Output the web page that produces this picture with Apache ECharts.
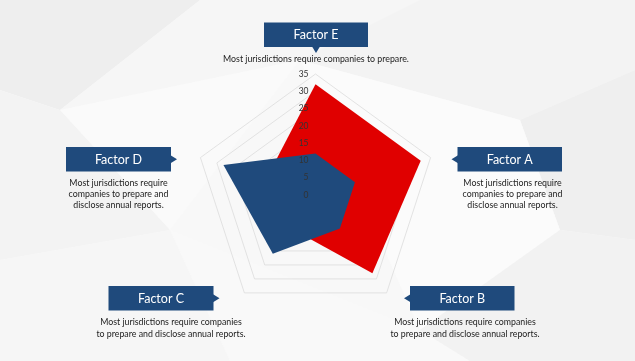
<!DOCTYPE html>
<html>
<head>
<meta charset="utf-8">
<script src="https://cdn.jsdelivr.net/npm/echarts@6/dist/echarts.min.js"></script>
<style>
html,body{margin:0;padding:0;background:#f5f5f5;}
#chart{width:635px;height:361px;}
</style>
</head>
<body>
<div id="chart"></div>
<script>
// ---- data ----
const indicatorNames = ['Factor E', 'Factor D', 'Factor C', 'Factor B', 'Factor A'];
const indicatorMax = 35;
const redValues = [32, 15, 12, 28, 32];
const blueValues = [12, 28, 21, 12, 12];
const axisTickLabels = ['0', '5', '10', '15', '20', '25', '30', '35'];
const boxTitles = ['Factor E', 'Factor D', 'Factor C', 'Factor B', 'Factor A'];
const descShort = 'Most jurisdictions require companies to prepare.';
const descThree = 'Most jurisdictions require\ncompanies to prepare and\ndisclose annual reports.';
const descTwo = 'Most jurisdictions require companies\nto prepare and disclose annual reports.';
const boxDescs = [descShort, descThree, descTwo, descTwo, descThree];

// ---- layout (styles/positions) ----
const BOX_BLUE = '#1f4a7c';
const LH = 11.3;
const boxLayout = [
  {x: 264, y: 22.5, w: 104, h: 24.5, arrow: 'bottom', dx: 316, dy: 59.5},
  {x: 66, y: 147, w: 105, h: 24.5, arrow: 'right', dx: 118.5, dy: 183},
  {x: 108.5, y: 286, w: 105, h: 24.5, arrow: 'right', dx: 171, dy: 322.5},
  {x: 410, y: 286, w: 104.5, h: 24.5, arrow: 'left', dx: 465, dy: 322.5},
  {x: 457.5, y: 147, w: 104.5, h: 24.5, arrow: 'left', dx: 512.5, dy: 183}
];

function arrowPoints(b) {
  const s = 6;
  if (b.arrow === 'bottom') {
    const cx = b.x + b.w / 2, by = b.y + b.h;
    return [[cx - 4, by - 0.5], [cx + 4, by - 0.5], [cx, by + s]];
  }
  const cy = b.y + b.h / 2;
  if (b.arrow === 'right') {
    const rx = b.x + b.w;
    return [[rx - 0.5, cy - 4], [rx + s, cy], [rx - 0.5, cy + 4]];
  }
  return [[b.x + 0.5, cy - 4], [b.x - s, cy], [b.x + 0.5, cy + 4]];
}

const bgPolys = [
  {pts: [[0,0],[200,0],[60,110],[0,90]], c: '#eeeeee'},
  {pts: [[200,0],[420,0],[300,60],[60,110]], c: '#f6f6f6'},
  {pts: [[420,0],[635,0],[635,70],[520,120],[300,60]], c: '#f3f3f3'},
  {pts: [[0,90],[60,110],[170,230],[0,260]], c: '#f3f3f3'},
  {pts: [[60,110],[300,60],[170,230]], c: '#fafafa'},
  {pts: [[520,120],[635,70],[635,240],[560,230]], c: '#efefef'},
  {pts: [[300,60],[520,120],[560,230],[420,330]], c: '#fbfbfb'},
  {pts: [[0,260],[170,230],[230,361],[0,361]], c: '#f6f6f6'},
  {pts: [[170,230],[420,330],[470,361],[230,361]], c: '#f9f9f9'},
  {pts: [[560,230],[635,240],[635,361],[470,361],[420,330]], c: '#f2f2f2'}
];

const graphics = [];
bgPolys.forEach(p => graphics.push({
  type: 'polygon', z: -10, silent: true,
  shape: {points: p.pts}, style: {fill: p.c}
}));
boxLayout.forEach((b, i) => {
  graphics.push({type: 'rect', shape: {x: b.x, y: b.y, width: b.w, height: b.h},
    style: {fill: BOX_BLUE}, z: 10});
  graphics.push({type: 'polygon', shape: {points: arrowPoints(b)},
    style: {fill: BOX_BLUE}, z: 10});
  graphics.push({type: 'text', x: b.x + b.w / 2, y: b.y + b.h / 2 + 0.5, z: 11,
    style: {text: boxTitles[i], fill: '#ffffff', font: '12.5px Lato',
      align: 'center', verticalAlign: 'middle'}});
  graphics.push({type: 'text', x: b.dx, y: b.dy - LH / 2, z: 11,
    style: {text: boxDescs[i], fill: '#222222', font: '8.8px Lato', lineHeight: LH,
      align: 'center', verticalAlign: 'top'}});
});

const labelRadar = {
  center: [315.5, 195],
  radius: 121,
  startAngle: 90,
  splitNumber: axisTickLabels.length - 1,
  shape: 'polygon',
  z: 5,
  axisName: {show: false},
  axisLine: {show: false},
  axisTick: {show: false},
  axisLabel: {show: false},
  splitLine: {show: false},
  splitArea: {show: false},
  indicator: indicatorNames.map((n, i) => ({
    name: n, min: 0, max: indicatorMax,
    axisLabel: i === 0 ? {show: true, showMinLabel: true, showMaxLabel: true,
      color: '#333', fontSize: 8.5, fontFamily: 'Lato', margin: 7,
      formatter: v => axisTickLabels[Math.round(v / 5)] ?? String(v)} : {show: false}
  }))
};

const chart = echarts.init(document.getElementById('chart'), null, {renderer: 'canvas'});
chart.setOption({
  backgroundColor: '#f8f8f8',
  animation: false,
  graphic: graphics,
  radar: [{
    center: [315.5, 195],
    radius: 121,
    startAngle: 90,
    splitNumber: axisTickLabels.length - 1,
    shape: 'polygon',
    axisName: {show: false},
    axisLine: {show: false},
    axisTick: {show: false},
    axisLabel: {show: false},
    splitLine: {lineStyle: {color: '#dcdcdc', width: 0.8}},
    splitArea: {show: false},
    indicator: indicatorNames.map(n => ({name: n, min: 0, max: indicatorMax}))
  }, labelRadar],
  series: [{
    type: 'radar',
    radarIndex: 0,
    symbol: 'none',
    silent: true,
    data: [
      {value: redValues, name: 'Red', areaStyle: {color: '#e00000', opacity: 1},
        lineStyle: {width: 0, color: '#e00000'}},
      {value: blueValues, name: 'Blue', areaStyle: {color: '#1f4a7c', opacity: 1},
        lineStyle: {width: 0, color: '#1f4a7c'}}
    ]
  }]
});
</script>
</body>
</html>
